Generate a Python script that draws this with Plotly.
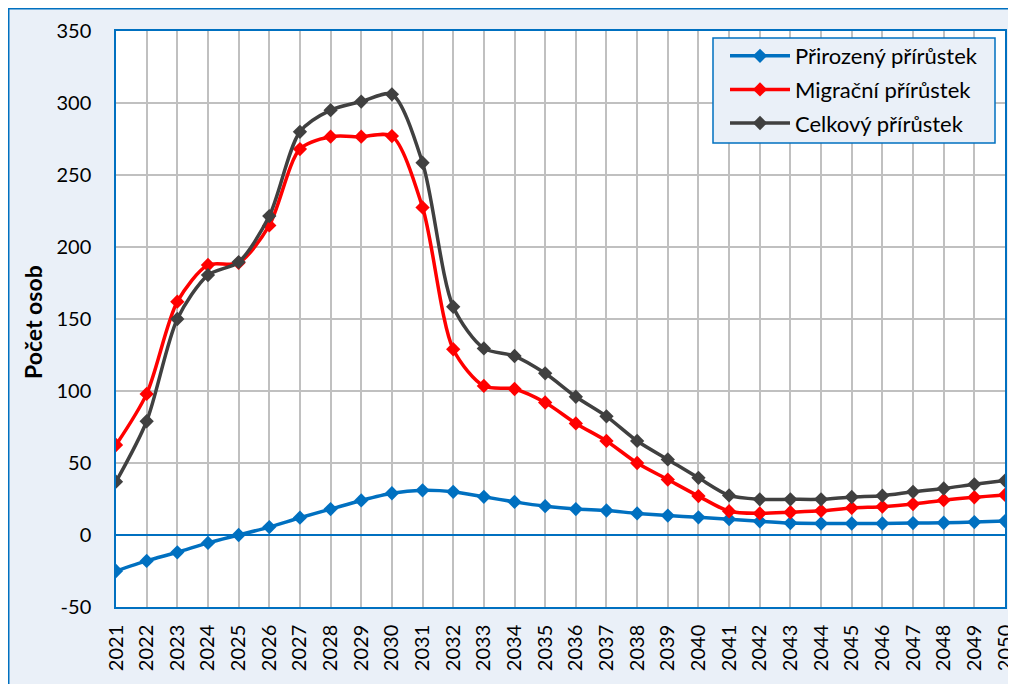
import plotly.graph_objects as go

years = list(range(2021, 2051))
prirozeny = [-25, -18, -12, -5.5, 0, 5.5, 12, 18, 24, 29, 31, 30, 26.5, 23, 20, 18, 17, 15, 13.5, 12.3,
             11, 9.5, 8.3, 8, 8, 8, 8.3, 8.5, 9, 9.7]
migracni = [62.5, 98, 162, 187.5, 189, 215, 268, 276.6, 276.6, 277, 227.5, 129, 103.5, 101.4, 92, 77.5,
            65.3, 50, 38.5, 27, 16.5, 15, 15.8, 16.8, 18.8, 19.7, 21.5, 24.2, 26.2, 27.8]
celkovy = [37, 79, 150, 180.5, 189.5, 221.5, 280, 295, 301, 306, 258.5, 158.5, 129.6, 124.3, 112.3, 96,
           82.4, 65.3, 52.5, 39.7, 27.5, 24.8, 24.8, 24.8, 26.4, 27.3, 30, 32.3, 35.2, 37.8]
y_ticks = [-50, 0, 50, 100, 150, 200, 250, 300, 350]
y_ticktext = ["-50", "0", "50", "100", "150", "200", "250", "300", "350"]

series = [
    ("Přirozený přírůstek", prirozeny, "#0070C0"),
    ("Migrační přírůstek", migracni, "#FF0000"),
    ("Celkový přírůstek", celkovy, "#404040"),
]

BG = "#EAF0F8"
BLUE = "#0070C0"
FONT = "Lato"

# page body has an 8px margin: figure origin sits at (8, 8) in the window
OFF = 8
W, H = 1016 - OFF, 684 - OFF
PL, PR, PT, PB = 116 - OFF, 1005 - OFF, 31 - OFF, 607 - OFF  # plot area in figure px
PW, PH = PR - PL, PB - PT


def px(xw):
    return (xw - OFF - PL) / PW


def py(yw):
    return (PB - (yw - OFF)) / PH


fig = go.Figure()
for i, (name, vals, col) in enumerate(series):
    fig.add_trace(go.Scatter(
        x=years, y=vals, name=name, mode="lines+markers", legendgroup=f"g{i}",
        line=dict(color=col, width=3.5, shape="spline", smoothing=0.8),
        marker=dict(symbol="diamond", size=11, color=col),
    ))

fig.update_layout(
    width=W, height=H,
    paper_bgcolor=BG, plot_bgcolor="white",
    margin=dict(l=PL, r=W - PR, t=PT, b=H - PB, autoexpand=False, pad=0),
    font=dict(family=FONT, size=20, color="black"),
    showlegend=True,
    legend=dict(
        x=px(725), y=py(35), xanchor="left", yanchor="top",
        bgcolor="rgba(0,0,0,0)", borderwidth=0,
        font=dict(family=FONT, size=22, color="black"),
        tracegroupgap=2, itemwidth=60,
    ),
    xaxis=dict(
        range=[2021, 2050], tickmode="array", tickvals=years,
        ticktext=[str(y) for y in years], tickangle=-90, automargin=False,
        showgrid=True, gridcolor="#C0C0C0", gridwidth=1.5,
        showline=True, linecolor=BLUE, linewidth=1.5, mirror=True,
        ticks="", ticklabelstandoff=8,
        tickfont=dict(family=FONT, size=20),
    ),
    yaxis=dict(
        range=[-50, 350], tickmode="array", tickvals=y_ticks, ticktext=y_ticktext,
        automargin=False,
        showgrid=True, gridcolor="#C0C0C0", gridwidth=1.5,
        showline=True, linecolor=BLUE, linewidth=1.5, mirror=True,
        zeroline=True, zerolinecolor=BLUE, zerolinewidth=1.5,
        ticks="", ticklabelstandoff=19,
        tickfont=dict(family=FONT, size=20),
    ),
    shapes=[
        dict(type="rect", xref="paper", yref="paper", layer="below",
             x0=px(8.5), x1=1.05, y0=-0.3, y1=py(8.5),
             line=dict(color=BLUE, width=2), fillcolor="rgba(0,0,0,0)"),
        dict(type="rect", xref="paper", yref="paper", layer="above",
             x0=px(713), x1=px(995), y0=py(143), y1=py(38),
             line=dict(color=BLUE, width=1.5), fillcolor=BG),
    ],
    annotations=[dict(
        text="<b>Počet osob</b>", xref="paper", yref="paper",
        x=px(33), y=py(322), textangle=-90, showarrow=False,
        xanchor="center", yanchor="middle",
        font=dict(family=FONT, size=23, color="black"),
    )],
)

fig.write_html("out.html")
